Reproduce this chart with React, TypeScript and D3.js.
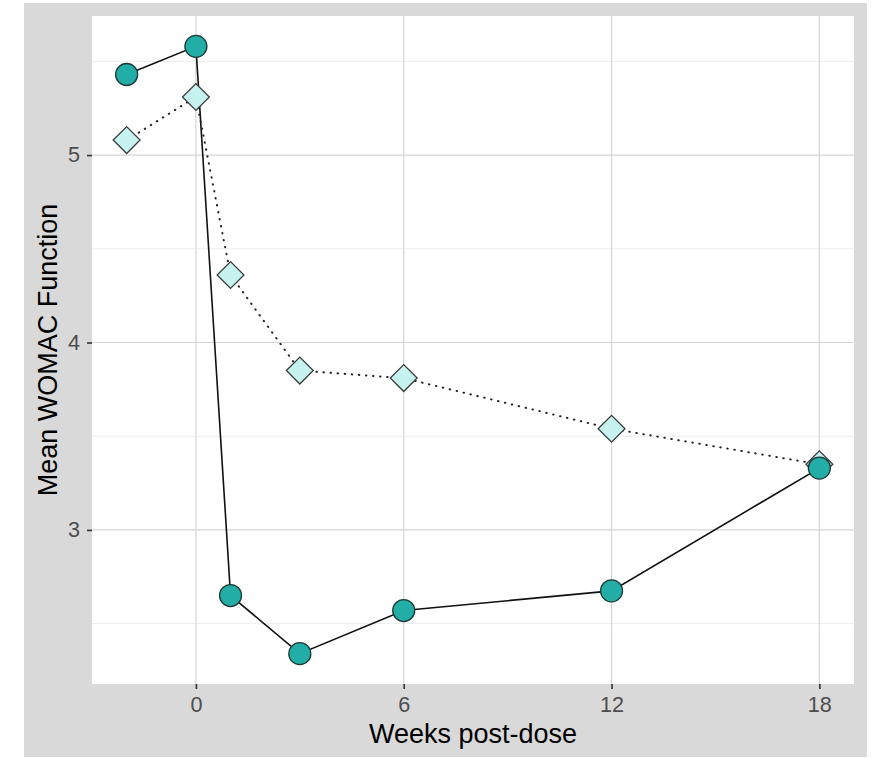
import React, { useEffect, useRef } from "react";
import { select, scaleLinear, line, symbol, symbolSquare, axisBottom, axisLeft, format } from "d3";

const weeks = [-2, 0, 1, 3, 6, 12, 18];
const circleValues = [5.43, 5.58, 2.65, 2.34, 2.57, 2.675, 3.33];
const diamondValues = [5.08, 5.31, 4.36, 3.85, 3.81, 3.54, 3.35];
const xTicks = [0, 6, 12, 18];
const yTicks = [3, 4, 5];
const yMinorTicks = [2.5, 3.5, 4.5, 5.5];

const W = 871;
const H = 758;
const margin = { left: 92, right: 17, top: 16, bottom: 74 };
const FONT = "'Liberation Sans', Arial, sans-serif";

function App() {
    const svgRef = useRef();

    useEffect(() => {
        const svg = select(svgRef.current);
        svg.selectAll("*").remove();

        const all = circleValues.concat(diamondValues);
        const xMin = Math.min(...weeks), xMax = Math.max(...weeks);
        const yMin = Math.min(...all), yMax = Math.max(...all);
        const xPad = (xMax - xMin) * 0.05;
        const yPad = (yMax - yMin) * 0.05;

        const xScale = scaleLinear()
            .domain([xMin - xPad, xMax + xPad])
            .range([margin.left, W - margin.right]);
        const yScale = scaleLinear()
            .domain([yMin - yPad, yMax + yPad])
            .range([H - margin.bottom, margin.top]);

        // outer grey background
        svg.append("rect")
            .attr("x", 24).attr("y", 3)
            .attr("width", 843).attr("height", 754)
            .attr("fill", "#d9d9d9");

        const [px0, px1] = xScale.range();
        const [py1, py0] = yScale.range();
        svg.append("rect")
            .attr("x", px0).attr("y", py0)
            .attr("width", px1 - px0).attr("height", py1 - py0)
            .attr("fill", "white");

        // grid
        svg.append("g").selectAll("line")
            .data(yMinorTicks)
            .join("line")
            .attr("x1", px0).attr("x2", px1)
            .attr("y1", d => yScale(d)).attr("y2", d => yScale(d))
            .attr("stroke", "#ededed").attr("stroke-width", 1);
        svg.append("g").selectAll("line")
            .data(yTicks)
            .join("line")
            .attr("x1", px0).attr("x2", px1)
            .attr("y1", d => yScale(d)).attr("y2", d => yScale(d))
            .attr("stroke", "#d6d6d6").attr("stroke-width", 1.2);
        svg.append("g").selectAll("line")
            .data(xTicks)
            .join("line")
            .attr("y1", py0).attr("y2", py1)
            .attr("x1", d => xScale(d)).attr("x2", d => xScale(d))
            .attr("stroke", "#d6d6d6").attr("stroke-width", 1.2);

        // axes
        const xAxis = axisBottom(xScale).tickValues(xTicks).tickFormat(format("d")).tickSize(5).tickPadding(8);
        const gx = svg.append("g")
            .attr("transform", `translate(0,${py1})`)
            .call(xAxis);
        const yAxis = axisLeft(yScale).tickValues(yTicks).tickFormat(format("d")).tickSize(5).tickPadding(7);
        const gy = svg.append("g")
            .attr("transform", `translate(${px0},0)`)
            .call(yAxis);
        [gx, gy].forEach(g => {
            g.attr("font-family", FONT);
            g.select(".domain").remove();
            g.selectAll(".tick line").attr("stroke", "#333333").attr("stroke-width", 1.6);
            g.selectAll(".tick text")
                .attr("fill", "#4d4d4d")
                .attr("font-size", 21.6)
                .style("font-size", "21.6px");
        });

        // lines
        const path = line().x((d, i) => xScale(weeks[i])).y(d => yScale(d));
        svg.append("path")
            .attr("d", path(circleValues))
            .attr("fill", "none")
            .attr("stroke", "#111111")
            .attr("stroke-width", 1.6);
        svg.append("path")
            .attr("d", path(diamondValues))
            .attr("fill", "none")
            .attr("stroke", "#222222")
            .attr("stroke-width", 2)
            .attr("stroke-linecap", "round")
            .attr("stroke-dasharray", "0.5 6.6");

        // points
        const diamond = symbol().type(symbolSquare).size(360);
        svg.append("g").selectAll("path")
            .data(diamondValues)
            .join("path")
            .attr("d", diamond)
            .attr("transform", (d, i) => `translate(${xScale(weeks[i])},${yScale(d)}) rotate(45)`)
            .attr("fill", "#c6f2ef")
            .attr("stroke", "#3a3a3a")
            .attr("stroke-width", 1.3);
        svg.append("g").selectAll("circle")
            .data(circleValues)
            .join("circle")
            .attr("cx", (d, i) => xScale(weeks[i]))
            .attr("cy", d => yScale(d))
            .attr("r", 11)
            .attr("fill", "#22aea6")
            .attr("stroke", "#1f3a38")
            .attr("stroke-width", 1.3);

        // titles
        svg.append("text")
            .attr("x", (px0 + px1) / 2)
            .attr("y", 743)
            .attr("text-anchor", "middle")
            .attr("fill", "black")
            .attr("font-family", FONT)
            .attr("font-size", 27)
            .text("Weeks post-dose");
        svg.append("text")
            .attr("transform", `translate(57,${(py0 + py1) / 2}) rotate(-90)`)
            .attr("text-anchor", "middle")
            .attr("fill", "black")
            .attr("font-family", FONT)
            .attr("font-size", 27)
            .text("Mean WOMAC Function");
    }, []);

    return (
        <div style={{ position: "absolute", left: 0, top: 0 }}>
            <svg ref={svgRef} width={W} height={H} style={{ display: "block", background: "white" }} />
        </div>
    );
}

export default App;
